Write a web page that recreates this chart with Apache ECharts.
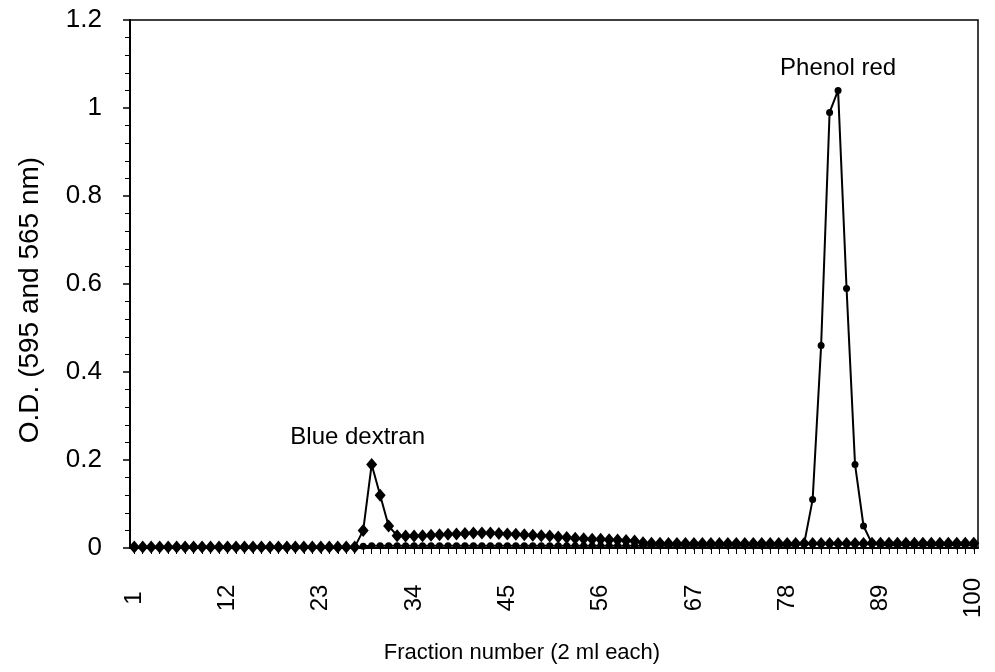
<!DOCTYPE html>
<html>
<head>
<meta charset="utf-8">
<script src="https://cdn.jsdelivr.net/npm/echarts@6/dist/echarts.min.js"></script>
<style>html,body{margin:0;padding:0;background:#fff}#c{width:995px;height:672px}</style>
</head>
<body>
<div id="c"></div>
<script>
// Fraction numbers 1..100
const fractions = [];
for (let i = 1; i <= 100; i++) fractions.push(String(i));

// Blue dextran (595 nm), fractions 1..100
const blueDextran = [
  0.002,0.002,0.002,0.002,0.002,0.002,0.002,0.002,0.002,0.002,
  0.002,0.002,0.002,0.002,0.002,0.002,0.002,0.002,0.002,0.002,
  0.002,0.002,0.002,0.002,0.002,0.002,0.002,0.04,0.19,0.12,
  0.05,0.028,0.027,0.027,0.028,0.029,0.03,0.031,0.032,0.033,
  0.034,0.034,0.034,0.033,0.032,0.031,0.03,0.029,0.028,0.027,
  0.025,0.024,0.022,0.021,0.02,0.02,0.019,0.018,0.017,0.016,
  0.012,0.011,0.011,0.01,0.01,0.01,0.01,0.01,0.01,0.01,
  0.01,0.01,0.01,0.01,0.01,0.01,0.01,0.01,0.01,0.01,
  0.01,0.01,0.01,0.01,0.01,0.01,0.01,0.011,0.011,0.011,
  0.011,0.011,0.011,0.011,0.011,0.011,0.011,0.011,0.011,0.011
];

// Phenol red (565 nm), fractions 1..100
const phenolRed = [
  0.002,0.002,0.002,0.002,0.002,0.002,0.002,0.002,0.002,0.002,
  0.002,0.002,0.002,0.002,0.002,0.002,0.002,0.002,0.002,0.002,
  0.002,0.002,0.002,0.002,0.002,0.002,0.002,0.004,0.005,0.005,
  0.005,0.005,0.005,0.005,0.005,0.005,0.005,0.005,0.005,0.005,
  0.005,0.005,0.005,0.005,0.005,0.005,0.005,0.005,0.005,0.005,
  0.005,0.005,0.005,0.005,0.005,0.005,0.005,0.005,0.005,0.005,
  0.005,0.005,0.005,0.005,0.005,0.005,0.005,0.005,0.005,0.005,
  0.005,0.005,0.005,0.005,0.005,0.005,0.005,0.005,0.006,0.01,
  0.11,0.46,0.99,1.04,0.59,0.19,0.05,0.01,0.006,0.006,
  0.006,0.006,0.006,0.006,0.006,0.006,0.006,0.006,0.006,0.006
];

const peakLabels = ['Blue dextran', 'Phenol red'];
const yTicks = [0, 0.2, 0.4, 0.6, 0.8, 1, 1.2];

const FONT = 'Liberation Sans, Arial, sans-serif';

function withPeakLabel(arr, text, offset) {
  const peakIdx = arr.indexOf(Math.max(...arr));
  return arr.map((v, i) => i === peakIdx ? {
    value: v,
    label: { show: true, formatter: text, position: 'top', offset: offset,
      fontFamily: FONT, fontSize: 24, color: '#000' }
  } : v);
}

const chart = echarts.init(document.getElementById('c'), null, { renderer: 'canvas' });
chart.setOption({
  animation: false,
  backgroundColor: '#fff',
  grid: { left: 130, right: 17, top: 20, bottom: 124, show: true, borderColor: '#000', borderWidth: 1.5, backgroundColor: 'transparent' },
  xAxis: {
    type: 'category',
    data: fractions,
    boundaryGap: true,
    name: 'Fraction number (2 ml each)',
    nameLocation: 'middle',
    nameGap: 94,
    nameTextStyle: { fontFamily: FONT, fontSize: 22, color: '#000', padding: [0, 64, 0, 0] },
    axisLine: { lineStyle: { color: '#000', width: 2 } },
    axisTick: { show: true, interval: 0, length: 6, alignWithLabel: true, lineStyle: { color: '#000', width: 1 } },
    axisLabel: { interval: 10, rotate: 90, align: 'center', verticalAlign: 'middle', margin: 50,
      fontFamily: FONT, fontSize: 24, color: '#000' },
    splitLine: { show: false }
  },
  yAxis: {
    type: 'value',
    min: yTicks[0],
    max: yTicks[yTicks.length - 1],
    interval: 0.2,
    name: 'O.D. (595 and 565 nm)',
    nameLocation: 'middle',
    nameGap: 86,
    nameTextStyle: { fontFamily: FONT, fontSize: 28, color: '#000', padding: [0, 32, 0, 0] },
    axisLine: { show: true, lineStyle: { color: '#000', width: 2 } },
    axisTick: { show: true, length: 7, lineStyle: { color: '#000', width: 1.5 } },
    minorTick: { show: true, splitNumber: 5, length: 5, lineStyle: { color: '#000', width: 1 } },
    axisLabel: { margin: 28, fontFamily: FONT, fontSize: 26, color: '#000',
      formatter: v => String(Math.round(v * 10) / 10) },
    splitLine: { show: false }
  },
  series: [
    {
      name: 'Phenol red',
      type: 'line',
      data: withPeakLabel(phenolRed, peakLabels[1], [0, -2]),
      symbol: 'circle',
      symbolSize: 7,
      showAllSymbol: true,
      itemStyle: { color: '#000' },
      lineStyle: { color: '#000', width: 2 },
      z: 2
    },
    {
      name: 'Blue dextran',
      type: 'line',
      data: withPeakLabel(blueDextran, peakLabels[0], [-14, -4]),
      symbol: 'diamond',
      symbolSize: [11, 13],
      showAllSymbol: true,
      itemStyle: { color: '#000' },
      lineStyle: { color: '#000', width: 2 },
      z: 3
    }
  ]
});
</script>
</body>
</html>
